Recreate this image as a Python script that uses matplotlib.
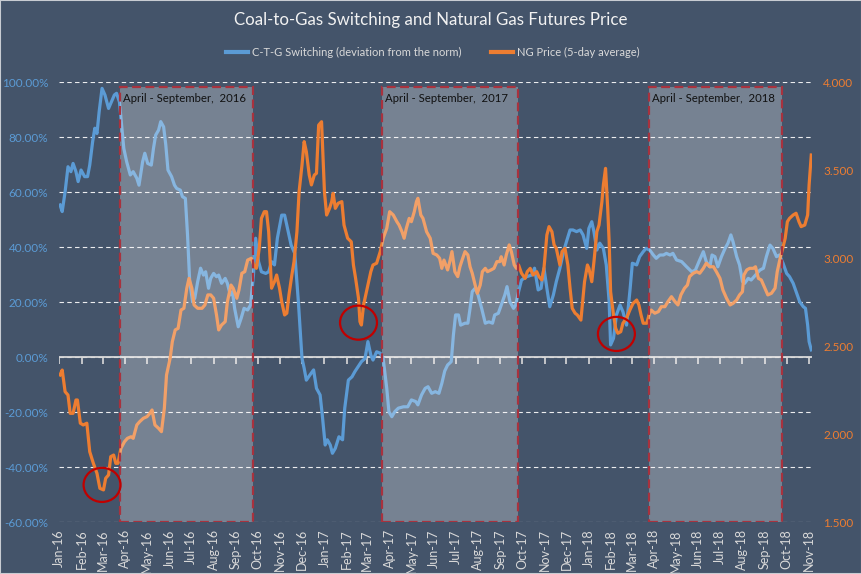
import matplotlib
matplotlib.use('Agg')
import matplotlib.pyplot as plt
import matplotlib.dates as mdates
import matplotlib.transforms as mtransforms
from matplotlib.patches import Rectangle, Ellipse
from matplotlib.lines import Line2D
from matplotlib.ticker import FuncFormatter, FixedLocator
import pandas as pd

START = pd.Timestamp('2016-01-01')

# C-T-G switching (deviation from the norm), % ; x = days since 2016-01-01
ctg_day = [1,4,8,12,16,19,23,26,30,35,39,42,46,49,52,55,59,63,68,72,76,79,83,86,89,93,98,102,107,110,115,118,122,127,130,133,137,140,144,147,150,155,159,162,167,170,174,177,180,184,187,191,195,199,202,206,209,213,217,220,224,229,232,236,239,242,247,251,255,260,264,268,271,275,279,285,289,293,297,301,307,311,315,320,325,330,335,338,341,346,351,355,360,363,367,370,374,377,381,386,391,394,399,404,408,414,417,422,426,430,433,438,443,447,452,455,459,463,468,475,481,486,492,495,500,505,509,514,519,524,528,532,536,541,544,547,551,554,560,564,567,570,574,578,583,588,593,598,601,606,610,615,618,622,627,630,634,638,645,652,656,661,665,669,673,677,682,686,691,696,700,705,709,714,719,723,728,731,735,738,742,746,751,755,759,761,765,769,774,778,783,788,791,797,801,806,810,815,820,824,829,834,838,843,847,852,859,866,873,878,883,889,893,898,901,905,909,914,919,923,927,930,935,939,943,946,951,955,961,967,972,976,981,985,990,994,999,1004,1008,1013,1017,1022,1027,1030,1033,1035,1038]
ctg_pct = [55.4,53.0,60.2,69.3,67.5,70.5,67.5,63.9,68.1,65.7,65.7,69.9,78.4,83.3,81.4,89.3,97.8,95.4,90.5,92.9,95.4,96.0,92.9,84.5,76.0,71.1,66.3,67.5,65.1,62.6,71.1,74.2,70.5,69.9,76.0,80.8,82.6,85.7,83.8,77.2,68.1,65.7,62.6,61.4,60.8,58.4,57.8,44.5,27.5,20.2,21.5,27.5,32.4,29.9,31.1,25.1,28.7,30.5,29.3,29.9,26.9,28.7,26.9,22.7,23.9,17.8,11.1,14.2,17.8,17.2,19.0,29.9,43.3,34.8,31.1,30.5,31.1,34.8,33.6,43.3,51.7,51.7,46.9,40.8,37.8,20.2,-0.4,-4.0,-8.3,-6.4,-4.6,-11.3,-13.7,-21.0,-31.9,-30.0,-31.9,-34.9,-33.1,-28.9,-30.0,-18.5,-8.3,-7.1,-5.2,-2.8,-1.6,-0.4,5.7,0.8,-1.0,2.0,1.5,-0.4,-11.3,-19.8,-21.6,-19.8,-18.5,-18.0,-18.0,-15.5,-16.1,-17.3,-13.7,-11.3,-10.7,-13.1,-12.5,-13.1,-9.5,-5.0,-2.8,-1.6,8.1,15.4,15.4,11.7,12.4,12.4,17.8,23.9,25.1,22.7,17.8,12.4,12.9,12.4,15.4,16.0,19.0,22.7,25.7,20.2,17.8,19.0,23.9,28.1,29.3,29.9,32.4,24.5,25.1,32.4,25.1,18.4,22.7,27.5,32.4,38.4,42.0,46.3,46.3,45.7,46.3,44.5,39.6,46.9,49.3,45.7,39.0,41.5,39.6,33.6,20.2,4.5,6.9,15.4,19.0,16.6,11.7,25.1,34.2,33.6,36.6,38.4,39.6,39.0,37.2,36.0,37.2,37.2,37.8,37.2,37.8,35.4,34.8,32.9,31.1,31.7,34.8,38.4,34.8,32.9,37.2,36.6,32.9,36.6,39.6,41.5,44.5,42.0,36.6,33.6,27.5,26.9,28.7,28.1,29.9,31.7,32.4,36.6,40.8,39.6,36.6,37.2,34.2,30.5,29.3,26.9,23.9,20.2,18.4,17.8,11.7,5.7,2.7]

# NG price (5-day average) ; x = days since 2016-01-01
ng_day = [1,4,8,12,15,19,23,25,29,33,38,42,47,52,56,61,64,68,71,75,78,81,85,90,94,99,102,107,111,116,121,125,128,132,137,141,145,148,153,156,160,164,168,172,176,179,183,186,191,197,201,205,209,213,217,220,224,229,232,237,240,245,248,252,256,260,265,269,272,276,279,283,286,289,293,297,300,304,307,311,314,317,321,324,328,331,335,338,341,345,348,352,355,358,362,366,369,373,376,378,381,385,390,393,398,403,406,409,413,415,417,420,423,426,430,433,438,443,447,452,456,461,466,469,473,476,479,483,486,490,493,495,499,502,507,512,516,521,525,528,531,536,539,542,546,550,553,556,560,564,567,570,574,577,581,584,588,591,596,600,604,608,610,614,617,621,624,628,631,634,638,643,646,650,654,659,662,666,669,673,676,680,683,686,691,694,698,702,705,708,712,715,720,722,725,729,731,735,738,742,745,749,751,754,757,759,761,765,768,771,775,778,783,788,792,797,800,803,806,811,814,817,822,827,831,836,840,845,850,854,858,863,867,870,875,880,884,889,893,898,903,907,912,916,921,926,930,935,939,943,945,949,953,958,961,965,969,974,978,983,988,991,995,998,1002,1005,1008,1013,1017,1021,1024,1029,1033,1035,1038]
ng_price = [2.337,2.365,2.242,2.223,2.119,2.119,2.195,2.195,2.063,2.053,2.063,1.901,1.835,1.778,1.693,1.684,1.750,1.769,1.873,1.882,1.835,1.835,1.920,1.958,1.977,1.986,1.977,2.053,2.072,2.091,2.100,2.119,2.138,2.053,2.034,2.015,2.148,2.337,2.432,2.526,2.593,2.602,2.706,2.716,2.830,2.886,2.830,2.735,2.716,2.716,2.735,2.792,2.792,2.773,2.678,2.593,2.621,2.640,2.753,2.848,2.830,2.773,2.820,2.915,2.924,2.990,3.000,2.955,2.943,3.057,3.227,3.265,3.265,3.151,2.830,2.867,2.905,2.830,2.753,2.678,2.688,2.792,2.905,2.981,3.151,3.378,3.530,3.663,3.606,3.473,3.417,3.473,3.483,3.757,3.776,3.378,3.246,3.284,3.322,3.369,3.284,3.313,3.322,3.189,3.114,3.094,2.962,2.886,2.773,2.640,2.621,2.735,2.792,2.848,2.924,2.962,2.972,3.038,3.114,3.170,3.265,3.246,3.208,3.189,3.151,3.114,3.170,3.227,3.208,3.265,3.322,3.341,3.246,3.227,3.151,3.114,3.028,3.019,3.000,2.943,2.990,2.934,2.981,3.038,2.924,2.896,2.952,2.990,3.038,3.019,2.952,2.915,2.848,2.801,2.848,2.924,2.943,2.924,2.934,2.943,2.981,2.981,3.009,2.962,3.019,3.076,3.038,2.962,2.943,2.962,2.915,2.886,2.924,2.943,2.905,2.924,2.896,2.877,2.943,3.132,3.180,3.151,3.076,3.057,2.962,3.038,3.057,2.962,2.830,2.716,2.688,2.678,2.649,2.735,2.867,2.962,2.943,2.867,2.981,3.151,3.189,3.322,3.417,3.511,3.284,3.094,2.810,2.678,2.602,2.574,2.583,2.631,2.660,2.710,2.744,2.763,2.735,2.678,2.631,2.631,2.678,2.706,2.688,2.697,2.725,2.725,2.753,2.782,2.753,2.735,2.792,2.830,2.848,2.896,2.915,2.924,2.915,2.943,2.972,2.952,2.952,2.924,2.886,2.820,2.773,2.735,2.744,2.763,2.792,2.810,2.905,2.934,2.943,2.943,2.952,2.886,2.877,2.830,2.792,2.801,2.830,2.924,3.000,3.047,3.114,3.208,3.227,3.246,3.256,3.208,3.180,3.189,3.246,3.417,3.587]

period_start = ['2016-03-25', '2017-03-21', '2018-03-25']
period_end = ['2016-09-24', '2017-09-25', '2018-09-24']
period_label = ['April - September,  2016', 'April - September,  2017', 'April - September,  2018']

circle_date = ['2016-02-29', '2017-02-17', '2018-02-08']
circle_pct = [-46.4, 12.6, 8.5]

title = 'Coal-to-Gas Switching and Natural Gas Futures Price'
ctg_label = 'C-T-G Switching (deviation from the norm)'
ng_label = 'NG Price (5-day average)'

BG = '#44546a'
BLUE = '#5b9bd5'
ORANGE = '#ed7d31'
LIGHT = '#d9d9d9'
FONT = ['Lato', 'DejaVu Sans']
plt.rcParams['font.family'] = FONT

ctg_x = [START + pd.Timedelta(days=d) for d in ctg_day]
ng_x = [START + pd.Timedelta(days=d) for d in ng_day]

fig = plt.figure(figsize=(8.62, 5.74), dpi=100, facecolor=BG)
ax = fig.add_axes([0.0688, 0.0901, 0.8732, 0.7665])
ax.set_facecolor(BG)
ax2 = ax.twinx()
ax2.patch.set_visible(False)

for a in (ax, ax2):
    for s in a.spines.values():
        s.set_visible(False)

ax.plot(ctg_x, ctg_pct, color=BLUE, lw=2.3, zorder=3, solid_joinstyle='round')
ax2.plot(ng_x, ng_price, color=ORANGE, lw=2.3, zorder=3, solid_joinstyle='round')

ax.set_ylim(-60, 100)
ax.yaxis.set_major_locator(FixedLocator(list(range(-60, 101, 20))))
ax.yaxis.set_major_formatter(FuncFormatter(lambda v, p: f'{v:.2f}%'))
ax.tick_params(axis='y', length=0, colors=BLUE, labelsize=8.5, pad=8)
ax.yaxis.grid(True, color='white', lw=0.8, linestyle=(0, (4, 3)), alpha=0.9)
ax.set_axisbelow(True)

ax2.set_ylim(1.5, 4.0)
ax2.yaxis.set_major_locator(FixedLocator([1.5, 2.0, 2.5, 3.0, 3.5, 4.0]))
ax2.yaxis.set_major_formatter(FuncFormatter(lambda v, p: f'{v:.3f}'))
ax2.tick_params(axis='y', length=0, colors=ORANGE, labelsize=8.5, pad=8)

xmin = START
xmax = pd.Timestamp('2018-11-05')
ax.set_xlim(xmin, xmax)
months = pd.date_range('2016-01-01', '2018-11-01', freq='MS')
ax.set_xticks(months)
ax.xaxis.set_major_formatter(mdates.DateFormatter('%b-%y'))
ax.tick_params(axis='x', length=0, colors=LIGHT, labelsize=9, rotation=90, pad=5)

# zero axis line with tick marks
ax.axhline(0, color=LIGHT, lw=1.3, zorder=2)
ax.plot(months, [0] * len(months), ls='none', marker=3, ms=5, mew=1.2, color=LIGHT, zorder=2)

# shaded periods (on top of both lines)
blend = mtransforms.blended_transform_factory(ax2.transData, ax2.transAxes)
for s, e, lab in zip(period_start, period_end, period_label):
    x0 = mdates.date2num(pd.Timestamp(s))
    x1 = mdates.date2num(pd.Timestamp(e))
    r = Rectangle((x0, 0.0), x1 - x0, 0.989, transform=blend,
                  facecolor=(1, 1, 1, 0.27), edgecolor='#a8323e', lw=1.6,
                  linestyle=(0, (4, 2)), zorder=5)
    ax2.add_patch(r)
    ax2.text(x0 + 4, 0.964, lab, transform=blend, ha='left', va='center',
             fontsize=8.2, color='#111111', zorder=6)

# red circles
for d, v in zip(circle_date, circle_pct):
    el = Ellipse((mdates.date2num(pd.Timestamp(d)), v), width=51, height=12.4,
                 transform=ax.transData, facecolor='none', edgecolor='#c00000',
                 lw=1.6, zorder=7)
    ax2.add_artist(el)

fig.text(0.5, 1 - 20 / 574, title, ha='center', va='center', color='#f2f2f2', fontsize=12.2)

handles = [Line2D([], [], color=BLUE, lw=3), Line2D([], [], color=ORANGE, lw=3)]
fig.legend(handles, [ctg_label, ng_label], loc='center', bbox_to_anchor=(0.502, 1 - 52 / 574),
           ncol=2, frameon=False, fontsize=8, labelcolor=LIGHT, handlelength=2.0,
           columnspacing=2.6, handletextpad=0.4)

# thin light border around figure
fig.patches.append(Rectangle((0, 0), 1, 1, transform=fig.transFigure, fill=False,
                             edgecolor='#c8ccd2', lw=1.5))

fig.savefig('out.png', dpi=100, facecolor=BG)
